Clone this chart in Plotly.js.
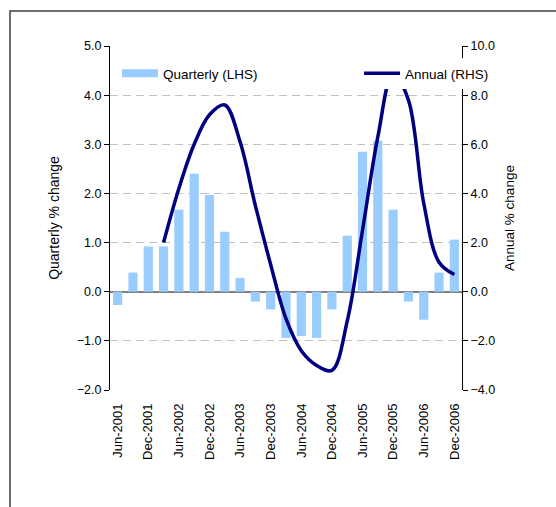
<!DOCTYPE html>
<html>
<head>
<meta charset="utf-8">
<script src="https://cdn.plot.ly/plotly-3.0.1.min.js"></script>
<style>
  html, body { margin: 0; padding: 0; background: #ffffff; }
  #chart { width: 556px; height: 507px; }
</style>
</head>
<body>
<div id="chart"></div>
<script>
// ---- data ----
const categories = [
  "Jun-2001", "Sep-2001", "Dec-2001",
  "Mar-2002", "Jun-2002", "Sep-2002", "Dec-2002",
  "Mar-2003", "Jun-2003", "Sep-2003", "Dec-2003",
  "Mar-2004", "Jun-2004", "Sep-2004", "Dec-2004",
  "Mar-2005", "Jun-2005", "Sep-2005", "Dec-2005",
  "Mar-2006", "Jun-2006", "Sep-2006", "Dec-2006"
];
const quarterly = [
  -0.27, 0.39, 0.92,
  0.92, 1.67, 2.40, 1.97,
  1.22, 0.28, -0.20, -0.36,
  -0.94, -0.90, -0.94, -0.36,
  1.14, 2.85, 3.07, 1.67,
  -0.20, -0.57, 0.39, 1.06
];
const annual = [
  null, null, null,
  2.0, 4.2, 6.0, 7.2,
  7.6, 6.1, 3.5, 1.1,
  -1.1, -2.4, -3.0, -3.2,
  -1.2, 2.5, 6.3, 8.9,
  7.8, 3.6, 1.2, 0.7
];
const tickLabels = categories.filter((c, i) => i % 2 === 0);
const seriesNames = ["Quarterly (LHS)", "Annual (RHS)"];

// ---- geometry helpers (pixels -> paper) ----
const W = 556, H = 507;
const M = { l: 110, r: 94, t: 46, b: 117 };
const PW = W - M.l - M.r, PH = H - M.t - M.b;
const px2x = p => (p - M.l) / PW;
const py2y = p => (H - M.b - p) / PH;

const barColor = "#99CCFF";
const lineColor = "#000080";
const FAM = "Liberation Sans, Arial, sans-serif";
const tickFont = { family: FAM, size: 12.5, color: "#000000" };
const xTickFont = { family: FAM, size: 13, color: "#000000" };
const leftTitleFont = { family: FAM, size: 14, color: "#000000" };
const rightTitleFont = { family: FAM, size: 13.5, color: "#000000" };
const legendFont = { family: FAM, size: 13.5, color: "#000000" };

const traces = [
  {
    type: "bar", x: categories, y: quarterly, name: seriesNames[0],
    marker: { color: barColor }, showlegend: false, xaxis: "x", yaxis: "y"
  },
  {
    type: "scatter", mode: "lines", x: [categories[0]], y: [null], name: seriesNames[0],
    line: { color: barColor, width: 8 }, showlegend: true, legend: "legend",
    xaxis: "x", yaxis: "y", hoverinfo: "skip"
  },
  {
    type: "scatter", mode: "lines", x: categories, y: annual, name: seriesNames[1],
    line: { color: lineColor, width: 3.5, shape: "spline", smoothing: 1 },
    connectgaps: false, xaxis: "x", yaxis: "y2", legend: "legend2"
  }
];

const n = categories.length;
const zeroPos = 2 / 7;
const tickAxis = (side) => ({
  overlaying: "x", anchor: "free", position: zeroPos,
  type: "linear", range: [-0.5, n - 0.5],
  tickmode: "linear", tick0: -0.5, dtick: 1,
  ticks: side, ticklen: 4, tickcolor: "#000000", tickwidth: 1,
  showticklabels: false, showgrid: false, zeroline: false, showline: false
});
const legendBase = {
  orientation: "h", xanchor: "left",
  y: py2y(89), yanchor: "bottom",
  bgcolor: "#ffffff", borderwidth: 0,
  itemwidth: 36,
  font: legendFont
};

const layout = {
  width: W, height: H,
  margin: M,
  paper_bgcolor: "#ffffff",
  plot_bgcolor: "#ffffff",
  font: tickFont,
  bargap: 0.4,
  showlegend: true,
  legend: Object.assign({}, legendBase, { x: px2x(117) }),
  legend2: Object.assign({}, legendBase, { x: px2x(359) }),
  xaxis: {
    type: "category",
    range: [-0.5, n - 0.5],
    tickmode: "array",
    tickvals: tickLabels,
    ticktext: tickLabels,
    tickangle: -90,
    ticks: "",
    ticklabelstandoff: 10,
    showline: false, showgrid: false, zeroline: false,
    tickfont: xTickFont
  },
  xaxis2: tickAxis("outside"),
  xaxis3: tickAxis("inside"),
  yaxis: {
    range: [-2, 5], dtick: 1, tick0: 0, tickformat: ".1f",
    ticks: "outside", ticklen: 5, tickcolor: "#000000",
    showline: true, linecolor: "#000000", linewidth: 1,
    showgrid: true, gridcolor: "#C0C0C0", griddash: "8px,5px", gridwidth: 1,
    zeroline: true, zerolinecolor: "#808080", zerolinewidth: 2,
    title: { text: "Quarterly % change", font: leftTitleFont, standoff: 13 },
    tickfont: tickFont
  },
  yaxis2: {
    overlaying: "y", side: "right", anchor: "x",
    range: [-4, 10], dtick: 2, tick0: 0, tickformat: ".1f",
    ticks: "outside", ticklen: 5, tickcolor: "#000000",
    showline: true, linecolor: "#000000", linewidth: 1,
    showgrid: false, zeroline: false,
    title: { text: "Annual % change", font: rightTitleFont, standoff: 10 },
    tickfont: tickFont
  },
  yaxis3: {
    overlaying: "y", side: "left", anchor: "x",
    range: [-2, 5], dtick: 1, tick0: 0,
    ticks: "inside", ticklen: 4, tickcolor: "#000000",
    showticklabels: false, showgrid: false, zeroline: false, showline: false
  },
  yaxis4: {
    overlaying: "y", side: "right", anchor: "x",
    range: [-4, 10], dtick: 2, tick0: 0,
    ticks: "inside", ticklen: 4, tickcolor: "#000000",
    showticklabels: false, showgrid: false, zeroline: false, showline: false
  },
  shapes: [
    {
      type: "path", xref: "paper", yref: "paper",
      path: `M ${px2x(10)},${py2y(H + 20)} L ${px2x(10)},${py2y(11)} L ${px2x(W + 20)},${py2y(11)}`,
      line: { color: "#404040", width: 1.5 }
    }
  ]
};

Plotly.newPlot("chart", traces, layout, { displayModeBar: false, staticPlot: true });
</script>
</body>
</html>
